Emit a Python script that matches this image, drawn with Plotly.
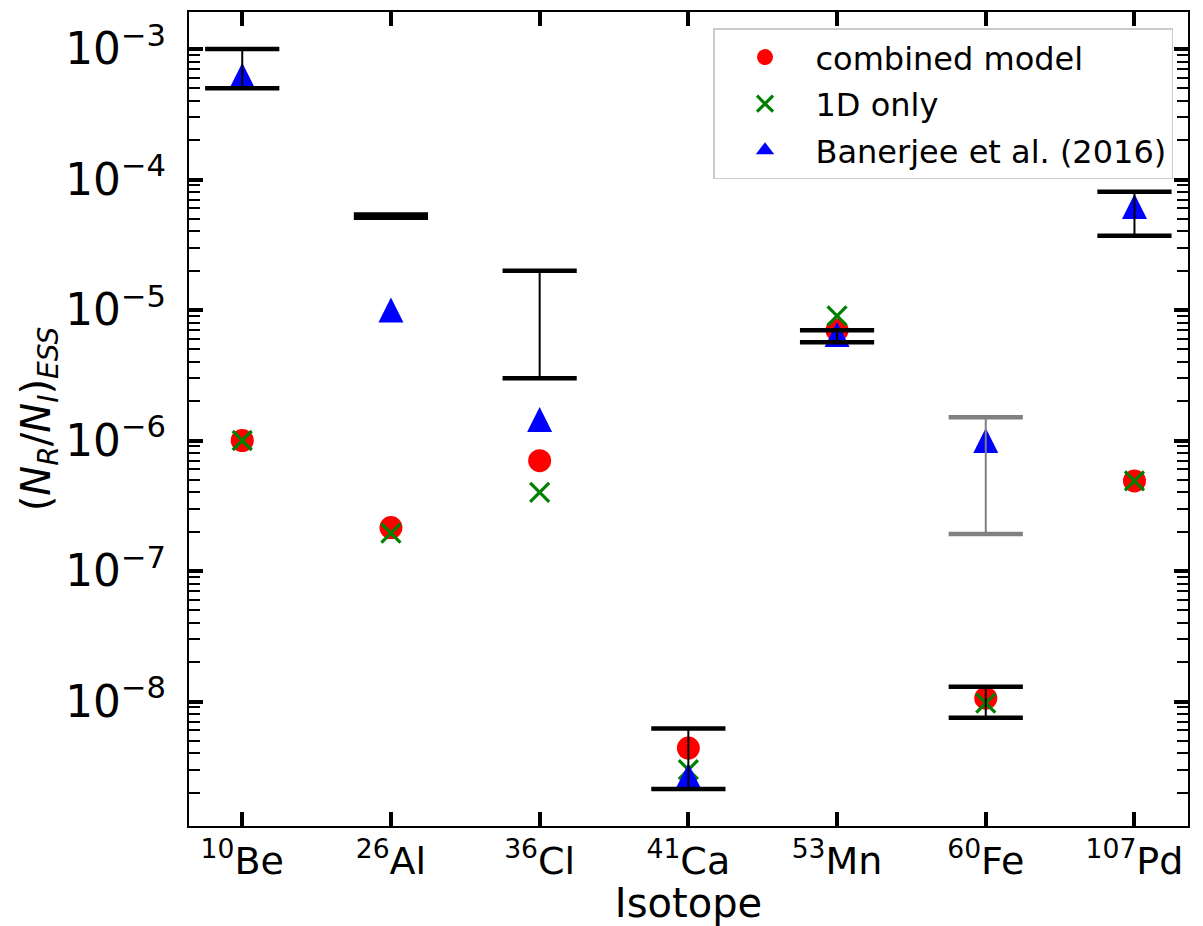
import plotly.graph_objects as go

# ---------------- data ----------------
isotopes = ["<sup>10</sup>Be", "<sup>26</sup>Al", "<sup>36</sup>Cl", "<sup>41</sup>Ca",
            "<sup>53</sup>Mn", "<sup>60</sup>Fe", "<sup>107</sup>Pd"]
xpos = list(range(len(isotopes)))

combined_model = [1.0e-6, 2.15e-7, 7.0e-7, 4.4e-9, 7.0e-6, 1.06e-8, 4.9e-7]
one_d_only = [1.0e-6, 1.95e-7, 4.0e-7, 3.0e-9, 9.0e-6, 9.7e-9, 4.9e-7]
banerjee_2016 = [6.3e-4, 1.0e-5, 1.45e-6, 2.7e-9, 6.5e-6, 1.0e-6, 6.2e-5]

# measured ranges (black bars)
meas_low = [5.0e-4, 5.1e-5, 3.0e-6, 2.14e-9, 5.65e-6, 7.5e-9, 3.71e-5]
meas_high = [1.0e-3, 5.4e-5, 2.0e-5, 6.2e-9, 7.0e-6, 1.3e-8, 8.07e-5]

# grey range (60Fe)
grey_idx = [5]
grey_low = [1.92e-7]
grey_high = [1.51e-6]

FONT = "DejaVu Sans"

fig = go.Figure()

fig.add_trace(go.Scatter(
    x=xpos, y=combined_model, mode="markers", name="combined model",
    legendgroup="a", legendrank=1,
    marker=dict(symbol="circle", size=23, color="#ff0000", line=dict(width=0))))
fig.add_trace(go.Scatter(
    x=xpos, y=one_d_only, mode="markers", name="1D only",
    legendgroup="b", legendrank=2,
    marker=dict(symbol="x-thin", size=19, color="#008000",
                line=dict(width=3.2, color="#008000"))))
# plotted triangles (centred via arrow + standoff), legend entry drawn separately
fig.add_trace(go.Scatter(
    x=xpos, y=banerjee_2016, mode="markers", name="Banerjee et al. (2016)",
    showlegend=False, legendgroup="c",
    marker=dict(symbol="arrow-down", angle=180, size=25, standoff=12.5, color="#0000ff",
                line=dict(width=0))))
fig.add_trace(go.Scatter(
    x=[None], y=[None], mode="markers", name="Banerjee et al. (2016)",
    legendgroup="c", legendrank=3,
    marker=dict(symbol="triangle-up", size=18, color="#0000ff", line=dict(width=0))))


def add_bars(xs, lo, hi, color):
    sx, sy = [], []
    for x, a, b in zip(xs, lo, hi):
        sx += [x, x, None]
        sy += [a, b, None]
    fig.add_trace(go.Scatter(x=sx, y=sy, mode="lines", showlegend=False,
                             line=dict(color=color, width=2), hoverinfo="skip"))
    fig.add_trace(go.Scatter(x=list(xs) + list(xs), y=list(lo) + list(hi),
                             mode="markers", showlegend=False, hoverinfo="skip",
                             marker=dict(symbol="line-ew", size=53, color=color,
                                         line=dict(width=4.5, color=color))))


add_bars(xpos, meas_low, meas_high, "black")
add_bars(grey_idx, grey_low, grey_high, "#808080")

axis_common = dict(
    showline=True, linecolor="black", linewidth=2, mirror="allticks",
    ticks="inside", ticklen=14, tickwidth=3.5, tickcolor="black",
    showgrid=False, zeroline=False, automargin=False,
)

fig.update_xaxes(
    **axis_common,
    range=[-0.358, 6.36],
    tickmode="array", tickvals=xpos, ticktext=isotopes,
    tickfont=dict(family=FONT, size=38, color="black"),
    title=dict(text="Isotope", font=dict(family=FONT, size=40, color="black"), standoff=16),
)
fig.update_yaxes(
    **axis_common,
    type="log", range=[-8.954, -2.7165],
    dtick=1, exponentformat="power",
    tickfont=dict(family=FONT, size=35, color="black"),
    ticklabelstandoff=14,
    minor=dict(ticks="inside", ticklen=11, tickwidth=1.5, tickcolor="black",
               dtick="D1", showgrid=False),
    title=dict(text="(<i>N</i><sub><i>R</i></sub>/<i>N</i><sub><i>I</i></sub>)<sub><i>ESS</i></sub>",
               font=dict(family=FONT, size=40, color="black"), standoff=0),
)

# the page body adds an 8 px offset, so the figure is 8 px smaller than the window
fig.update_layout(
    width=1195, height=918,
    margin=dict(l=181, r=15, t=4, b=100),
    paper_bgcolor="white", plot_bgcolor="white",
    font=dict(family=FONT, color="black"),
    legend=dict(
        x=0.985, y=0.98, xanchor="right", yanchor="top",
        bgcolor="white", bordercolor="#cccccc", borderwidth=1.5,
        font=dict(family=FONT, size=32, color="black"),
        itemwidth=91, tracegroupgap=2,
    ),
    showlegend=True,
)

fig.write_html("out.html")
